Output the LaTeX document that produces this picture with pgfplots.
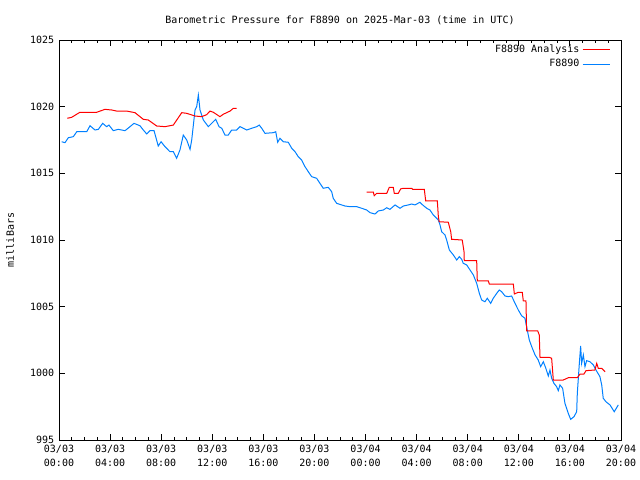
\documentclass[border=0pt]{standalone}
\usepackage{fontspec}
\setmainfont{DejaVu Sans Mono}
\usepackage{pgfplots}
\pgfplotsset{compat=1.18}
\definecolor{fblue}{RGB}{0,128,255}
\definecolor{fred}{RGB}{255,0,0}
\begin{document}
\begin{tikzpicture}
\path[use as bounding box] (0,0) rectangle (460.8pt,345.6pt);
\begin{axis}[
  at={(42.48pt,28.8pt)}, anchor=south west,
  scale only axis, width=404.64pt, height=288pt,
  xmin=0, xmax=44, ymin=995, ymax=1025,
  xtick={0,4,...,44}, minor xtick={0,1,...,44},
  xticklabels={{03/03\\00:00},{03/03\\04:00},{03/03\\08:00},{03/03\\12:00},{03/03\\16:00},{03/03\\20:00},{03/04\\00:00},{03/04\\04:00},{03/04\\08:00},{03/04\\12:00},{03/04\\16:00},{03/04\\20:00}},
  xticklabel style={align=center, font=\fontsize{7.2}{10}\selectfont},
  ytick={995,1000,...,1025},
  yticklabel style={font=\fontsize{7.2}{10}\selectfont},
  /pgf/number format/assume math mode=true,
  /pgf/number format/set thousands separator={},
  tick align=inside, xtick pos=both, ytick pos=both,
  major tick length=4.3pt, minor tick length=2.2pt,
  tick style={black, line width=0.6pt},
  axis line style={line width=0.72pt},
  unbounded coords=jump,
  legend style={draw=none, fill=none, at={(rel axis cs:0.99,1.0025)}, anchor=north east,
    font=\fontsize{7.2}{10}\selectfont, row sep=-0.6pt},
  legend cell align=right, legend plot pos=right,
  legend image code/.code={\draw[mark repeat=2,mark phase=2,#1] plot coordinates {(0pt,0pt) (10pt,0pt) (20pt,0pt)};},
  reverse legend,
  clip=false,
]
\addplot[fblue, line width=0.72pt] coordinates {
(0.21,1017.37)(0.47,1017.30)(0.73,1017.67)(1.12,1017.75)(1.39,1018.12)(2.17,1018.12)
(2.43,1018.57)(2.82,1018.25)(3.08,1018.30)(3.42,1018.75)(3.73,1018.50)(3.91,1018.62)
(4.25,1018.20)(4.64,1018.30)(5.17,1018.20)(5.56,1018.50)(5.87,1018.75)(6.34,1018.57)
(6.60,1018.25)(6.87,1017.95)(7.12,1018.20)(7.44,1018.20)(7.57,1017.75)(7.77,1017.05)
(7.99,1017.37)(8.30,1017.00)(8.69,1016.62)(8.95,1016.62)(9.21,1016.13)(9.47,1016.75)
(9.73,1017.87)(10.00,1017.50)(10.26,1016.80)(10.39,1017.50)(10.65,1019.75)(10.78,1020.00)
(10.91,1020.87)(11.04,1019.75)(11.30,1019.00)(11.69,1018.50)(11.95,1018.75)(12.27,1019.05)
(12.53,1018.50)(12.74,1018.38)(13.00,1017.87)(13.25,1017.87)(13.52,1018.25)(13.91,1018.25)
(14.17,1018.50)(14.43,1018.38)(14.70,1018.25)(15.09,1018.38)(15.48,1018.50)(15.68,1018.62)
(15.87,1018.38)(16.13,1018.00)(16.78,1018.05)(16.97,1018.12)(17.12,1017.33)(17.30,1017.63)
(17.56,1017.37)(17.95,1017.33)(18.22,1016.88)(18.48,1016.62)(18.73,1016.25)(19.00,1016.00)
(19.26,1015.50)(19.52,1015.12)(19.78,1014.75)(20.17,1014.63)(20.43,1014.25)(20.69,1013.88)
(21.08,1013.95)(21.35,1013.62)(21.47,1013.13)(21.74,1012.75)(22.13,1012.63)(22.39,1012.55)
(22.78,1012.50)(23.31,1012.50)(23.70,1012.38)(24.09,1012.25)(24.35,1012.05)(24.74,1011.95)
(25.00,1012.18)(25.39,1012.25)(25.66,1012.42)(25.91,1012.30)(26.31,1012.63)(26.70,1012.38)
(26.96,1012.55)(27.35,1012.63)(27.61,1012.70)(27.87,1012.63)(28.26,1012.83)(28.47,1012.63)
(28.79,1012.38)(29.04,1012.25)(29.30,1011.88)(29.52,1011.67)(29.70,1011.50)(29.83,1011.13)
(29.96,1010.62)(30.22,1010.38)(30.35,1010.00)(30.56,1009.25)(30.87,1008.88)(31.14,1008.50)
(31.34,1008.75)(31.53,1008.55)(31.65,1008.25)(31.92,1008.13)(32.18,1007.75)(32.44,1007.38)
(32.70,1006.75)(32.91,1006.00)(33.09,1005.50)(33.35,1005.37)(33.53,1005.63)(33.80,1005.25)
(34.00,1005.63)(34.27,1006.00)(34.47,1006.25)(34.66,1006.12)(34.92,1005.80)(35.18,1005.75)
(35.44,1005.80)(35.70,1005.25)(35.96,1004.75)(36.22,1004.32)(36.48,1004.13)(36.61,1003.50)
(36.82,1002.50)(37.01,1002.00)(37.27,1001.38)(37.52,1001.00)(37.71,1000.50)(37.92,1000.87)
(38.10,1000.42)(38.31,999.80)(38.44,1000.25)(38.57,999.63)(38.75,999.25)(38.96,999.00)
(39.09,998.70)(39.22,999.13)(39.43,998.88)(39.61,997.75)(39.87,997.00)(40.06,996.55)
(40.32,996.75)(40.53,997.12)(40.58,998.50)(40.73,1000.63)(40.84,1002.05)(40.92,1000.75)
(41.05,1001.38)(41.18,1000.50)(41.31,1000.95)(41.57,1000.87)(41.83,1000.63)(42.04,1000.25)
(42.35,999.75)(42.49,999.13)(42.61,998.13)(42.82,997.87)(43.14,997.63)(43.47,997.12)
(43.79,997.63)
};
\addlegendentry{F8890}
\addplot[fred, line width=0.72pt] coordinates {
(0.65,1019.13)(0.99,1019.20)(1.64,1019.58)(2.95,1019.58)(3.60,1019.80)(4.13,1019.75)
(4.52,1019.67)(5.30,1019.67)(5.95,1019.55)(6.60,1019.05)(6.99,1019.00)(7.65,1018.55)
(8.30,1018.50)(8.95,1018.62)(9.61,1019.55)(10.00,1019.50)(10.65,1019.30)(11.17,1019.25)
(11.56,1019.40)(11.82,1019.67)(12.08,1019.58)(12.60,1019.25)(12.86,1019.43)(13.39,1019.67)
(13.65,1019.88)(13.91,1019.88)
(19.00,nan)
(24.09,1013.60)(24.61,1013.60)(24.68,1013.32)(24.87,1013.50)(25.66,1013.50)(25.86,1013.95)
(26.17,1013.95)(26.25,1013.50)(26.56,1013.50)(26.75,1013.83)(26.96,1013.88)(27.61,1013.88)
(27.69,1013.80)(28.60,1013.80)(28.71,1012.93)(29.62,1012.93)(29.70,1011.75)(29.77,1011.37)
(30.48,1011.33)(30.67,1010.62)(30.74,1010.05)(31.57,1010.00)(31.71,1009.12)(31.73,1008.45)
(32.70,1008.45)(32.75,1006.93)(33.61,1006.93)(33.69,1006.70)(35.57,1006.70)(35.65,1005.95)
(35.96,1006.08)(36.27,1006.08)(36.35,1005.43)(36.56,1005.43)(36.61,1003.18)(37.48,1003.18)
(37.60,1002.88)(37.66,1001.20)(38.38,1001.20)(38.57,1001.13)(38.70,999.50)(39.48,999.50)
(39.87,999.67)(40.58,999.67)(40.79,999.95)(41.10,999.95)(41.26,1000.20)(41.96,1000.25)
(42.10,1000.75)(42.22,1000.38)(42.49,1000.38)(42.75,1000.12)
};
\addlegendentry{F8890 Analysis}
\node[font=\fontsize{7.2}{10}\selectfont] at (axis description cs:0.5,1.05) {Barometric Pressure for F8890 on 2025-Mar-03 (time in UTC)};
\node[rotate=90, font=\fontsize{7.2}{10}\selectfont] at (axis description cs:-0.087,0.5) {milliBars};
\end{axis}
\end{tikzpicture}
\end{document}
